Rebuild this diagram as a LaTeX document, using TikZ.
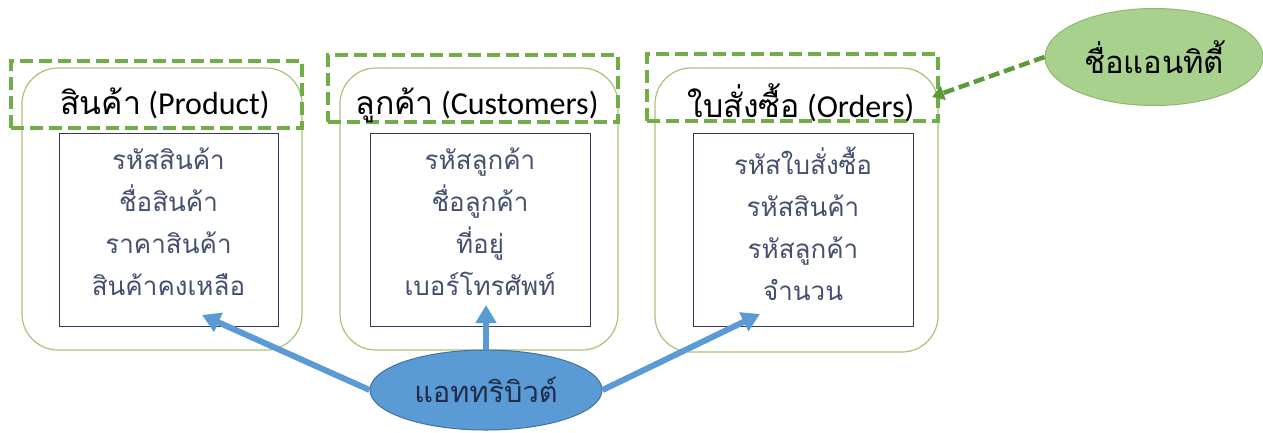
\documentclass[tikz,border=0pt]{standalone}
\usepackage{fontspec}
\setmainfont{Carlito}
\newfontfamily\thaifont[Script=Thai]{Loma}
\usetikzlibrary{arrows.meta,shapes.geometric}
\definecolor{dashgreen}{HTML}{70AD47}
\definecolor{arrowgreen}{HTML}{5E9A3A}
\definecolor{boxgreen}{HTML}{A9C27C}
\definecolor{innerline}{HTML}{2E3A57}
\definecolor{attrtext}{HTML}{44506E}
\definecolor{entfill}{HTML}{A9D18E}
\definecolor{entdraw}{HTML}{8FB870}
\definecolor{attrfill}{HTML}{5B9BD5}
\definecolor{attrdraw}{HTML}{41719C}
\definecolor{arrowblue}{HTML}{5B9BD5}
\definecolor{navytext}{HTML}{1F2D4A}
\begin{document}
\begin{tikzpicture}[x=1pt,y=-1pt,
  outerbox/.style={draw=boxgreen, line width=1.2pt, rounded corners=36pt,
    minimum width=280pt, minimum height=282pt, inner sep=0pt},
  headbox/.style={draw=dashgreen, line width=4pt, dash pattern=on 13pt off 6pt,
    minimum width=291pt, minimum height=67pt, inner sep=0pt},
  innerbox/.style={draw=innerline, line width=1pt, minimum width=219pt,
    minimum height=193pt, inner sep=0pt},
  attrlist/.style={align=center, text=attrtext, inner sep=0pt,
    font=\thaifont\fontsize{26}{42}\selectfont},
  titletext/.style={font=\fontsize{32}{38}\selectfont, text=black, inner sep=0pt},
  entity/.style={ellipse, draw=entdraw, fill=entfill, line width=1pt,
    minimum width=218pt, minimum height=97pt, inner sep=0pt,
    font=\thaifont\fontsize{31}{36}\selectfont, text=black},
  attribute/.style={ellipse, draw=attrdraw, fill=attrfill, line width=1pt,
    minimum width=232pt, minimum height=80pt, inner sep=0pt,
    font=\thaifont\fontsize{29}{34}\selectfont, text=navytext},
  bluearrow/.style={draw=arrowblue, line width=6pt,
    -{Triangle[width=20pt,length=18pt]}},
  greenarrow/.style={draw=arrowgreen, line width=4.5pt, dash pattern=on 11pt off 5pt,
    -{Triangle[width=14pt,length=12pt]}}
]
\fill[white] (0,0) rectangle (1263,432);
\useasboundingbox (0,0) rectangle (1263,432);

% outer boxes
\node[outerbox] (pout) at (162,209) {};
\node[outerbox, minimum width=278pt] (cout) at (479,209) {};
\node[outerbox, minimum width=283pt, minimum height=284pt] (oout) at (796.5,210) {};

% header dashed frames
\node[headbox] (phead) at (156.5,94.5) {};
\node[headbox, minimum width=290pt] (chead) at (473,88.5) {};
\node[headbox] (ohead) at (792.5,87.5) {};

% titles
\node[titletext] (ptitle) at (165,103) {{\thaifont สินค้า} (Product)};
\node[titletext] (ctitle) at (477,105) {{\thaifont ลูกค้า} (Customers)};
\node[titletext] (otitle) at (801,103) {{\thaifont ใบสั่งซื้อ} (Orders)};

% attribute boxes
\node[innerbox] (pbox) at (168.5,229.5) {};
\node[innerbox, minimum width=220pt] (cbox) at (480,229.5) {};
\node[innerbox, minimum width=220pt] (obox) at (803,229.5) {};
\node[attrlist] (plist) at (168.5,222) {รหัสสินค้า\\ชื่อสินค้า\\ราคาสินค้า\\สินค้าคงเหลือ};
\node[attrlist] (clist) at (480,222) {รหัสลูกค้า\\ชื่อลูกค้า\\ที่อยู่\\เบอร์โทรศัพท์};
\node[attrlist] (olist) at (803,224) {รหัสใบสั่งซื้อ\\รหัสสินค้า\\รหัสลูกค้า\\จำนวน};

% callout ellipses
\node[entity] (ent) at (1154,57) {ชื่อแอนทิตี้};
\node[attribute] (att) at (486,390) {แอททริบิวต์};

% arrow tips
\coordinate (ptip) at (202,315);
\coordinate (ctip) at (486,305);
\coordinate (otip) at (760,314);
\coordinate (etip) at (932,97);

\draw[bluearrow] (att.west) -- (ptip);
\draw[bluearrow] (att.north) -- (ctip);
\draw[bluearrow] (att.east) -- (otip);
\draw[greenarrow] (ent.west) -- (etip);
\end{tikzpicture}
\end{document}
